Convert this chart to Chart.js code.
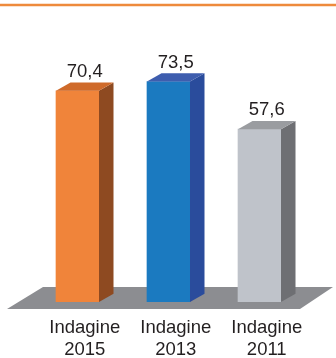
<!DOCTYPE html>
<html>
<head>
<meta charset="utf-8">
<script src="https://cdn.jsdelivr.net/npm/chart.js@4/dist/chart.umd.min.js"></script>
<style>
  html, body { margin: 0; padding: 0; background: #ffffff; }
  #wrap { width: 336px; height: 358px; position: relative; }
</style>
</head>
<body>
<div id="wrap"><canvas id="c" width="336" height="358"></canvas></div>
<script>
// Survey editions and their scores
const categories = [['Indagine', '2015'], ['Indagine', '2013'], ['Indagine', '2011']];
const values = [70.4, 73.5, 57.6];

// Face colours for each bar: front, top, side
const frontColors = ['#F0843A', '#1B7AC0', '#BFC3CA'];
const topColors   = ['#CF6A2A', '#3E5DAE', '#9A9CA0'];
const sideColors  = ['#8E4A21', '#2A4C9C', '#6E6F73'];

const DEPTH_X = 14.5;   // horizontal shift of the back faces
const DEPTH_Y = 8.3;    // vertical shift of the back faces
const FONT = '"Liberation Sans", Arial, sans-serif';

const extrudePlugin = {
  id: 'extrude',
  beforeDraw(chart) {
    const ctx = chart.ctx;
    // thin accent rule across the top
    ctx.save();
    ctx.strokeStyle = '#EE8A3C';
    ctx.lineWidth = 2.5;
    ctx.beginPath();
    ctx.moveTo(0, 5);
    ctx.lineTo(chart.width, 5);
    ctx.stroke();
    ctx.restore();
  },
  beforeDatasetsDraw(chart) {
    const ctx = chart.ctx;
    const area = chart.chartArea;
    const y0 = chart.scales.y.getPixelForValue(0);
    // grey floor slab under the bars
    ctx.save();
    ctx.fillStyle = '#8C8D91';
    ctx.beginPath();
    ctx.moveTo(area.left - 25, y0 + 7);
    ctx.lineTo(area.right - 5, y0 + 7);
    ctx.lineTo(area.right + 28, y0 - 15);
    ctx.lineTo(area.left + 11, y0 - 15);
    ctx.closePath();
    ctx.fill();
    ctx.restore();
  },
  afterDatasetsDraw(chart) {
    const ctx = chart.ctx;
    const meta = chart.getDatasetMeta(0);
    ctx.save();
    meta.data.forEach((bar, i) => {
      const p = bar.getProps(['x', 'y', 'base', 'width'], true);
      const l = p.x - p.width / 2;
      const r = p.x + p.width / 2;
      // side face
      ctx.fillStyle = sideColors[i];
      ctx.beginPath();
      ctx.moveTo(r, p.y);
      ctx.lineTo(r + DEPTH_X, p.y - DEPTH_Y);
      ctx.lineTo(r + DEPTH_X, p.base - DEPTH_Y);
      ctx.lineTo(r, p.base);
      ctx.closePath();
      ctx.fill();
      // top face
      ctx.fillStyle = topColors[i];
      ctx.beginPath();
      ctx.moveTo(l, p.y);
      ctx.lineTo(l + DEPTH_X, p.y - DEPTH_Y);
      ctx.lineTo(r + DEPTH_X, p.y - DEPTH_Y);
      ctx.lineTo(r, p.y);
      ctx.closePath();
      ctx.fill();
      // value label
      const v = chart.data.datasets[0].data[i];
      ctx.fillStyle = '#231F20';
      ctx.font = '18.5px ' + FONT;
      ctx.textAlign = 'center';
      ctx.textBaseline = 'alphabetic';
      ctx.fillText(v.toFixed(1).replace('.', ','), p.x + DEPTH_X / 2, p.y - DEPTH_Y - 5.5);
    });
    ctx.restore();
  }
};

new Chart(document.getElementById('c'), {
  type: 'bar',
  data: {
    labels: categories,
    datasets: [{
      data: values,
      backgroundColor: frontColors,
      borderWidth: 0,
      barThickness: 43
    }]
  },
  options: {
    responsive: false,
    animation: false,
    events: [],
    layout: { padding: { top: 32, left: 32, right: 31, bottom: 0 } },
    plugins: { legend: { display: false }, tooltip: { enabled: false } },
    scales: {
      x: {
        offset: true,
        border: { display: false },
        grid: { display: false, drawTicks: false },
        ticks: {
          color: '#231F20',
          font: { family: FONT, size: 18.5, lineHeight: 1.2 },
          padding: 15,
          labelOffset: 7.25,
          maxRotation: 0,
          autoSkip: false
        },
        afterFit(scale) { scale.height = 56; }
      },
      y: {
        display: false,
        min: 0,
        max: 90
      }
    }
  },
  plugins: [extrudePlugin]
});
</script>
</body>
</html>
